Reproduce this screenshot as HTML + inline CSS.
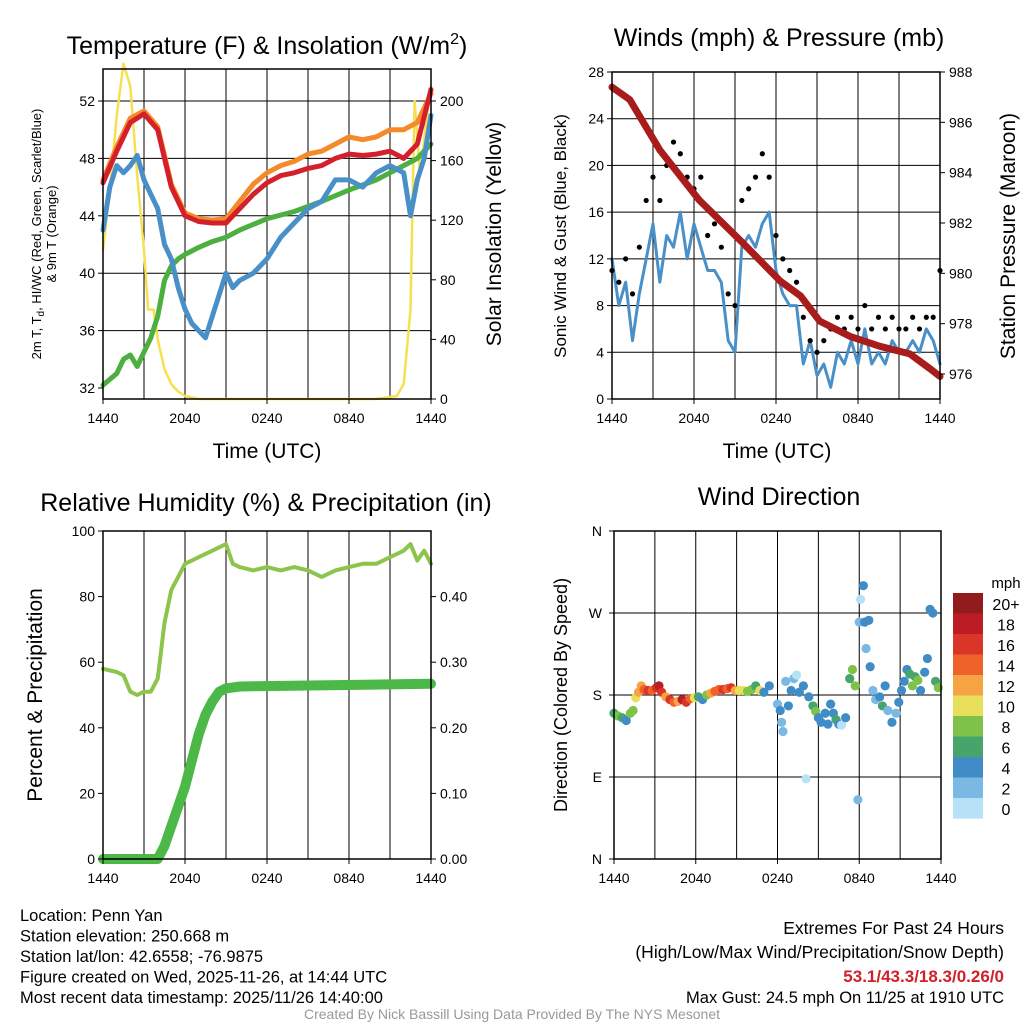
<!DOCTYPE html>
<html><head><meta charset="utf-8"><style>
body{margin:0;background:#fff;font-family:"Liberation Sans",sans-serif}
svg text{font-family:"Liberation Sans",sans-serif}
</style></head><body>
<svg id="s" width="1024" height="1024" viewBox="0 0 1024 1024" xmlns="http://www.w3.org/2000/svg"></svg>
<script>
// ---- data ----
const tempT=[0,1,2,3,4,5,6,7,8,9,10,11,12,13,14,15,16,17,18,19,20,21,22,23,24];
const tempRed=[46.3,48.5,50.5,51.1,50,46,44,43.6,43.5,43.5,44.5,45.5,46.3,46.8,47,47.3,47.5,48,48.3,48.2,48.3,48.5,48,49,52.8];
const tempOrange=[46.5,48.8,50.8,51.3,50.2,46.2,44.2,43.8,43.7,43.8,45,46.2,47,47.5,47.8,48.3,48.5,49,49.5,49.3,49.5,50,50,50.5,52.5];
const wcT=[0,0.5,1,1.5,2,2.5,3,3.5,4,4.5,5,5.5,6,6.5,7,7.5,8,8.5,9,9.5,10,11,12,13,14,15,16,17,18,19,20,21,22,22.5,23,23.5,24];
const wcVals=[43,46,47.5,47,47.5,48.2,46.5,45.5,44.5,42,41,39,37.5,36.5,36,35.5,37,38.5,40,39,39.5,40,41,42.5,43.5,44.5,45,46.5,46.5,46,47,47.5,47,44,46.5,48,51];
const dewT=[0,1,1.5,2,2.5,3,3.5,4,4.5,5,5.5,6,7,8,9,10,12,14,16,18,20,22,23,24];
const dewVals=[32.2,33,34,34.3,33.5,34.5,35.5,37,39.5,40.5,41,41.3,41.8,42.2,42.5,43,43.8,44.3,45,45.8,46.5,47.5,48,49];
const solT=[0,0.5,1,1.5,2,2.5,3,3.3,3.7,4,4.5,5,5.5,6,7,20,21.5,22,22.5,22.8,23.2,23.7,24];
const solVals=[100,140,190,225,210,150,100,60,60,40,20,10,5,2,0,0,2,10,60,200,150,190,210];
const windT=[0,0.5,1,1.5,2,2.5,3,3.5,4,4.5,5,5.5,6,6.5,7,7.5,8,8.5,9,9.5,10,10.5,11,11.5,12,12.5,13,13.5,14,14.5,15,15.5,16,16.5,17,17.5,18,18.5,19,19.5,20,20.5,21,21.5,22,22.5,23,23.5,24];
const windVals=[12,8,10,5,9,12,15,10,14,13,16,12,15,13,11,11,10,5,4,13,14,13,15,16,11,9,8,8,3,5,2,3,1,4,3,5,3,6,3,4,3,5,4,4,5,4,6,5,3];
const gustVals=[11,10,12,9,13,17,19,17,20,22,21,19,18,19,14,15,13,9,8,17,18,19,21,19,14,12,11,10,7,5,4,5,6,7,6,7,6,8,6,7,6,7,6,6,7,6,7,7,11];
const presT=[0,1.3,3.5,6.4,9.4,12.3,13.8,15.2,17.4,19.6,21.8,23.3,24];
const presVals=[987.4,986.9,984.9,982.9,981.3,979.7,979.1,978.1,977.5,977.1,976.8,976.2,975.9];
const rhT=[0,1,1.5,2,2.5,3,3.5,4,4.5,5,5.5,6,7,8,9,9.5,10,11,12,13,14,15,16,17,18,19,20,21,22,22.5,23,23.5,24];
const rhVals=[58,57,56,51,50,51,51,55,72,82,86,90,92,94,96,90,89,88,89,88,89,88,86,88,89,90,90,92,94,96,91,94,90];
const prT=[0,4,4.5,5,5.5,6,6.5,7,7.5,8,8.5,9,10,24];
const prVals=[0,0,0.02,0.05,0.08,0.11,0.15,0.19,0.22,0.24,0.255,0.26,0.263,0.267];
const dirT=[0,0.3,0.6,0.9,1.2,1.4,1.6,1.8,2,2.2,2.5,2.8,3.1,3.3,3.5,3.8,4.1,4.4,4.7,5,5.3,5.6,5.9,6.2,6.5,6.8,7.1,7.4,7.7,8,8.3,8.6,8.9,9.2,9.5,9.8,10.1,10.4,10.7,11,11.4,12,12.2,12.3,12.4,12.6,12.8,13,13.2,13.4,13.6,13.9,14.1,14.3,14.6,14.8,15,15.2,15.5,15.7,15.9,16.1,16.3,16.5,16.7,17,17.3,17.5,17.7,17.9,18,18.1,18.3,18.4,18.5,18.7,18.8,19,19.2,19.5,19.7,19.9,20.1,20.4,20.7,20.9,21.1,21.3,21.5,21.7,21.9,22.1,22.3,22.5,22.8,23,23.2,23.4,23.6,23.8];
const dirVals=[160,157,155,152,160,163,177,183,190,186,185,185,188,190,183,178,175,172,173,175,172,176,177,178,175,180,182,184,186,186,187,188,185,185,185,184,186,190,185,183,190,170,163,150,140,195,168,185,198,202,183,190,88,178,168,162,155,150,160,148,170,160,153,148,147,155,198,208,190,65,260,285,300,260,231,262,211,185,175,178,168,190,163,150,160,172,185,195,208,203,190,200,196,185,205,220,274,270,195,188];
const dirSpeed=[7,8,7,5,8,8,10,12,12,14,16,14,16,18,17,12,16,15,12,18,16,14,10,6,4,8,12,14,14,16,14,16,12,10,10,8,9,7,10,5,4,2,4,2,2,2,4,4,2,0,4,4,0,4,6,8,4,4,4,4,4,4,6,4,0,4,6,8,8,2,2,0,4,4,2,4,4,2,2,4,6,4,2,4,2,4,4,4,4,6,8,6,8,4,4,4,4,4,6,8];
const cbLabels=["20+","18","16","14","12","10","8","6","4","2","0"];
const cbColors=["#931a1d","#bb1c25","#db3428","#ef6229","#f6a443","#e7df5a","#7ec24a","#47a56c","#3f8cc6","#7bb8e3","#b6e1f6"];

// ---- helpers ----
const S=document.getElementById('s');const NS="http://www.w3.org/2000/svg";
function el(tag,attrs,parent){const e=document.createElementNS(NS,tag);for(const k in attrs)e.setAttribute(k,attrs[k]);(parent||S).appendChild(e);return e;}
function txt(x,y,str,size,anchor,name,extra){const e=el('text',Object.assign({x:x,y:y,'font-size':size,'text-anchor':anchor||'middle',fill:'#000'},extra||{}));e.textContent=str;return e;}
function lin(d0,d1,r0,r1){return v=>r0+(v-d0)/(d1-d0)*(r1-r0);}
function path(ts,vs,fx,fy,color,w,name){let d='';ts.forEach((t,i)=>{d+=(i?'L':'M')+fx(t).toFixed(1)+','+fy(vs[i]).toFixed(1);});const p=el('path',{d:d,fill:'none',stroke:color,'stroke-width':w,'stroke-linejoin':'round','stroke-linecap':'round'});return p;}
function frame(x0,y0,x1,y1,name){const g=el('g',{});
 for(let i=1;i<8;i++){const x=x0+(x1-x0)*i/8;el('line',{x1:x,y1:y0,x2:x,y2:y1,stroke:'#000','stroke-width':1},g);}
 return g;}
function box(x0,y0,x1,y1){const r=el('rect',{x:x0,y:y0,width:x1-x0,height:y1-y0,fill:'none',stroke:'#000','stroke-width':1.5});}
function xticks(x0,x1,yb){const labs=["1440","2040","0240","0840","1440"];labs.forEach((l,i)=>{const x=x0+(x1-x0)*i/4;el('line',{x1:x,y1:yb,x2:x,y2:yb+5,stroke:'#000'});txt(x,yb+24,l,14,'middle','x-tick-label');});}
function hgrid(g,x0,x1,ys){ys.forEach(y=>el('line',{x1:x0,y1:y,x2:x1,y2:y,stroke:'#000','stroke-width':1},g));}

// ---- Panel 1 ----
{const X0=103,X1=431,Y0=69,Y1=399;const fx=lin(0,24,X0,X1);const fy=lin(32,52,388,101);const fs=lin(0,200,399,101);
 const g=frame(X0,Y0,X1,Y1,'temperature-grid');hgrid(g,X0,X1,[52,48,44,40,36].map(fy));
 txt(267,54,'',25,'middle','panel1-title').innerHTML='Temperature (F) &amp; Insolation (W/m<tspan font-size="16" dy="-10">2</tspan><tspan dy="10">)</tspan>';
 path(solT,solVals,fx,fs,'#f7e04f',2.5,'solar-insolation-line');
 path(dewT,dewVals,fx,fy,'#4caf3f',5,'dewpoint-line');
 path(wcT,wcVals,fx,fy,'#4a90c8',5,'heat-index-windchill-line');
 path(tempT,tempOrange,fx,fy,'#f58a2a',5,'9m-temperature-line');
 path(tempT,tempRed,fx,fy,'#d4202a',5,'2m-temperature-line');
 box(X0,Y0,X1,Y1);xticks(X0,X1,Y1);
 [52,48,44,40,36,32].forEach(v=>{el('line',{x1:X0-5,y1:fy(v),x2:X0,y2:fy(v),stroke:'#000'});txt(X0-8,fy(v)+5,String(v),14,'end','y-tick-label');});
 [200,160,120,80,40,0].forEach(v=>{el('line',{x1:X1,y1:fs(v),x2:X1+5,y2:fs(v),stroke:'#000'});txt(X1+9,fs(v)+5,String(v),14,'start','y2-tick-label');});
 txt(267,458,'Time (UTC)',21,'middle','x-axis-title');
 const a=txt(0,0,'',13,'middle','y-axis-title',{transform:'translate(41,234) rotate(-90)'});a.innerHTML='2m T, T<tspan font-size="10" dy="3">d</tspan><tspan dy="-3">, HI/WC (Red, Green, Scarlet/Blue)</tspan>';
 txt(0,0,'& 9m T (Orange)',13,'middle','y-axis-title-2',{transform:'translate(56,234) rotate(-90)'});
 txt(0,0,'Solar Insolation (Yellow)',21,'middle','y2-axis-title',{transform:'translate(501,234) rotate(-90)'});
}
// ---- Panel 2 ----
{const X0=612,X1=940,Y0=72,Y1=399;const fx=lin(0,24,X0,X1);const fy=lin(0,28,399,72);const fp=lin(976,988,374,72);
 const g=frame(X0,Y0,X1,Y1,'wind-grid');hgrid(g,X0,X1,[24,20,16,12,8,4].map(fy));
 txt(779,46,'Winds (mph) & Pressure (mb)',25,'middle','panel2-title');
 path(windT,windVals,fx,fy,'#4a90c8',3,'sonic-wind-line');
 windT.forEach((t,i)=>{const c=el('circle',{cx:fx(t),cy:fy(gustVals[i]),r:2.6,fill:'#000'});});
 path(presT,presVals,fx,fp,'#a81c1c',7,'station-pressure-line');
 box(X0,Y0,X1,Y1);xticks(X0,X1,Y1);
 [28,24,20,16,12,8,4,0].forEach(v=>{el('line',{x1:X0-5,y1:fy(v),x2:X0,y2:fy(v),stroke:'#000'});txt(X0-8,fy(v)+5,String(v),14,'end','y-tick-label');});
 [988,986,984,982,980,978,976].forEach(v=>{el('line',{x1:X1,y1:fp(v),x2:X1+5,y2:fp(v),stroke:'#000'});txt(X1+9,fp(v)+5,String(v),14,'start','y2-tick-label');});
 txt(777,458,'Time (UTC)',21,'middle','x-axis-title');
 txt(0,0,'Sonic Wind & Gust (Blue, Black)',17,'middle','y-axis-title',{transform:'translate(566,236) rotate(-90)'});
 txt(0,0,'Station Pressure (Maroon)',21,'middle','y2-axis-title',{transform:'translate(1015,236) rotate(-90)'});
}
// ---- Panel 3 ----
{const X0=103,X1=431,Y0=531,Y1=859;const fx=lin(0,24,X0,X1);const fy=lin(0,100,859,531);const fr=lin(0,0.5,859,531);
 const g=frame(X0,Y0,X1,Y1,'humidity-grid');
 txt(266,511,'Relative Humidity (%) & Precipitation (in)',25,'middle','panel3-title');
 path(rhT,rhVals,fx,fy,'#8cc44c',4,'relative-humidity-line');
 path(prT,prVals,fx,fr,'#4cb848',10,'precipitation-line');
 box(X0,Y0,X1,Y1);xticks(X0,X1,Y1);
 [100,80,60,40,20,0].forEach(v=>{el('line',{x1:X0-5,y1:fy(v),x2:X0,y2:fy(v),stroke:'#000'});txt(X0-8,fy(v)+5,String(v),14,'end','y-tick-label');});
 ["0.40","0.30","0.20","0.10","0.00"].forEach(l=>{const y=fr(parseFloat(l));el('line',{x1:X1,y1:y,x2:X1+5,y2:y,stroke:'#000'});txt(X1+9,y+5,l,14,'start','y2-tick-label');});
 txt(0,0,'Percent & Precipitation',21,'middle','y-axis-title',{transform:'translate(42,695) rotate(-90)'});
}
// ---- Panel 4 ----
{const X0=614,X1=941,Y0=531,Y1=859;const fx=lin(0,24,X0,X1);const fy=lin(0,360,859,531);
 const g=frame(X0,Y0,X1,Y1,'direction-grid');hgrid(g,X0,X1,[270,180,90].map(fy));
 txt(779,505,'Wind Direction',25,'middle','panel4-title');
 const ci=s=>cbColors[10-Math.min(10,Math.floor(s/2))];
 dirT.forEach((t,i)=>{const c=el('circle',{cx:fx(t),cy:fy(dirVals[i]),r:4.6,fill:ci(dirSpeed[i])});});
 box(X0,Y0,X1,Y1);xticks(X0,X1,Y1);
 [["N",360],["W",270],["S",180],["E",90],["N",0]].forEach(([l,v])=>{el('line',{x1:X0-5,y1:fy(v),x2:X0,y2:fy(v),stroke:'#000'});txt(X0-12,fy(v)+5,l,14,'end','y-tick-label');});
 txt(0,0,'Direction (Colored By Speed)',18,'middle','y-axis-title',{transform:'translate(567,695) rotate(-90)'});
 txt(1006,588,'mph',15,'middle','colorbar-title');
 cbColors.forEach((c,i)=>{const r=el('rect',{x:953,y:593+i*20.5,width:30,height:20.6,fill:c});txt(1006,610+i*20.5,cbLabels[i],16,'middle','colorbar-label');});
}
// ---- footer ----
["Location: Penn Yan","Station elevation: 250.668 m","Station lat/lon: 42.6558; -76.9875","Figure created on Wed, 2025-11-26, at 14:44 UTC","Most recent data timestamp: 2025/11/26 14:40:00"].forEach((l,i)=>txt(20,921+i*20.5,l,16.5,'start','station-info-line'));
txt(1004,934,'Extremes For Past 24 Hours',17.5,'end','extremes-title');
txt(1004,958,'(High/Low/Max Wind/Precipitation/Snow Depth)',17.5,'end','extremes-subtitle');
txt(1004,982,'53.1/43.3/18.3/0.26/0',17,'end','extremes-values',{fill:'#d0202a','font-weight':'bold'});
txt(1004,1003,'Max Gust: 24.5 mph On 11/25 at 1910 UTC',16.5,'end','max-gust');
txt(512,1019,'Created By Nick Bassill Using Data Provided By The NYS Mesonet',14,'middle','credit-line',{fill:'#999'});
</script>
</body></html>
